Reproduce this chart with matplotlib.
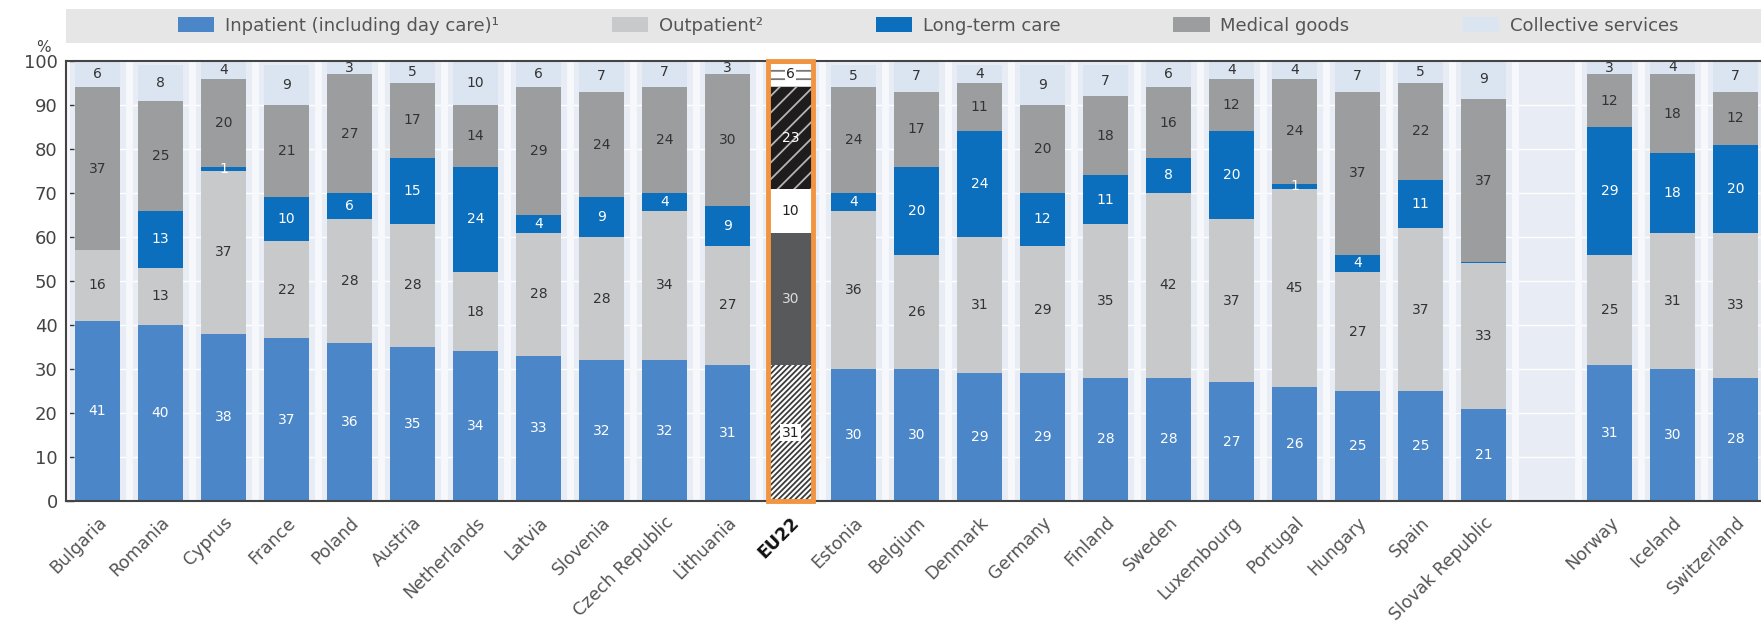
import numpy as np
import matplotlib
matplotlib.use('agg')
import matplotlib.pyplot as plt
from matplotlib.patches import Rectangle

# share of current health spending by function, %
countries = ['Bulgaria', 'Romania', 'Cyprus', 'France', 'Poland', 'Austria', 'Netherlands',
             'Latvia', 'Slovenia', 'Czech Republic', 'Lithuania', 'EU22', 'Estonia', 'Belgium',
             'Denmark', 'Germany', 'Finland', 'Sweden', 'Luxembourg', 'Portugal', 'Hungary',
             'Spain', 'Slovak Republic', 'Norway', 'Iceland', 'Switzerland']
inpatient = [41, 40, 38, 37, 36, 35, 34, 33, 32, 32, 31, 31, 30, 30, 29, 29, 28, 28, 27, 26, 25, 25, 21, 31, 30, 28]
outpatient = [16, 13, 37, 22, 28, 28, 18, 28, 28, 34, 27, 30, 36, 26, 31, 29, 35, 42, 37, 45, 27, 37, 33, 25, 31, 33]
ltc = [0, 13, 1, 10, 6, 15, 24, 4, 9, 4, 9, 10, 4, 20, 24, 12, 11, 8, 20, 1, 4, 11, 0.3, 29, 18, 20]
medical = [37, 25, 20, 21, 27, 17, 14, 29, 24, 24, 30, 23, 24, 17, 11, 20, 18, 16, 12, 24, 37, 22, 37, 12, 18, 12]
collective = [6, 8, 4, 9, 3, 5, 10, 6, 7, 7, 3, 6, 5, 7, 4, 9, 7, 6, 4, 4, 7, 5, 9, 3, 4, 7]
series_names = ['Inpatient (including day care)\u00b9', 'Outpatient\u00b2', 'Long-term care',
                'Medical goods', 'Collective services']

colors = ['#4a86c8', '#c8c9cb', '#0b6fbd', '#9c9d9f', '#dbe4f1']
txt_colors = ['white', '#333333', 'white', '#333333', '#333333']
n_other = 3  # non-EU countries, after an empty slot
eu_idx = countries.index('EU22')

x = np.arange(len(countries), dtype=float)
x[-n_other:] += 1
width = 0.71

W, H = 1761, 621
plt.rcParams['font.family'] = ['DejaVu Sans']
plt.rcParams['hatch.linewidth'] = 1.3

fig = plt.figure(figsize=(W/100, H/100), dpi=100)
ax = fig.add_axes([66/W, 1-501/H, 1701/W, 440/H])
ax.set_facecolor('#e8edf5')

data = [inpatient, outpatient, ltc, medical, collective]
bottom = np.zeros(len(countries))
containers = []
for vals, c, name in zip(data, colors, series_names):
    vals = np.array(vals, dtype=float)
    bc = ax.bar(x, vals, width, bottom=bottom, color=c, linewidth=0, label=name, zorder=2)
    containers.append(bc)
    bottom += vals

# EU22 bar in black & white hatching
eu_style = [dict(fc='white', ec='#3c3c3c', hatch='//////'),
            dict(fc='#58595b', ec='#58595b', hatch=None),
            dict(fc='white', ec='white', hatch=None),
            dict(fc='#1e1c1d', ec='#b5b5b5', hatch='//'),
            dict(fc='white', ec='#777777', hatch='--')]
for bc, st in zip(containers, eu_style):
    r = bc[eu_idx]
    r.set_facecolor(st['fc'])
    r.set_edgecolor(st['ec'])
    r.set_linewidth(0)
    if st['hatch']:
        r.set_hatch(st['hatch'])
ax.add_patch(Rectangle((x[eu_idx]-width/2, 0), width, 100, fill=False,
                       ec='#f39440', lw=3.5, zorder=5, clip_on=False))

# value labels
bottom = np.zeros(len(countries))
eu_txt = ['#222222', '#dddddd', '#222222', 'white', '#222222']
for k, vals in enumerate(data):
    for i, v in enumerate(vals):
        if v >= 1:
            col = eu_txt[k] if i == eu_idx else txt_colors[k]
            bb = None
            if i == eu_idx and k in (0, 4):
                bb = dict(boxstyle='square,pad=0.1', fc='white', ec='none')
            ax.text(x[i], min(bottom[i] + v/2, 98.6), '%d' % v, ha='center', va='center',
                    fontsize=10, color=col, zorder=6, bbox=bb)
        bottom[i] += v

# slot separators and grid
ax.vlines(np.arange(-0.5, len(countries) + 1), 0, 100, colors='#f6f8fc', lw=5, zorder=1)
ax.set_yticks(np.arange(0, 101, 10))
ax.yaxis.grid(True, color='white', lw=1, zorder=1)
ax.set_axisbelow(True)

ax.set_xlim(-0.5, len(countries) + 0.5)
ax.set_ylim(0, 100)
ax.set_xticks(x)
ax.set_xticklabels(countries, rotation=45, ha='right', rotation_mode='anchor',
                   fontsize=12.5, color='#555555')
ax.get_xticklabels()[eu_idx].set_fontweight('bold')
ax.get_xticklabels()[eu_idx].set_color('#111111')
ax.tick_params(axis='x', length=0, pad=9)
ax.set_xticks(np.arange(0.5, len(countries), 1), minor=True)
ax.tick_params(axis='x', which='minor', direction='in', length=5, width=1.5, color='#333333')
ax.tick_params(axis='y', direction='in', length=6, width=1, color='#333333',
               labelsize=13, labelcolor='#444444', pad=6)
for s in ['left', 'bottom', 'top']:
    ax.spines[s].set_color('#444444')
    ax.spines[s].set_linewidth(1.5)
ax.spines['right'].set_visible(False)

fig.text(43/W, 1-48/H, '%', fontsize=11, color='#444444', ha='center', va='center')

# legend band
fig.patches.append(Rectangle((66/W, 1-43/H), 1-66/W, 34/H, transform=fig.transFigure,
                             fc='#e6e6e6', ec='none', zorder=0))
leg = fig.legend(handles=containers, labels=series_names, ncol=5, mode='expand',
                 loc='center', bbox_to_anchor=(178/W, 1-43/H, 1500/W, 34/H),
                 fontsize=13, frameon=False, borderpad=0, borderaxespad=0,
                 handlelength=2.0, handleheight=0.9, handletextpad=0.6, labelcolor='#555555')

fig.savefig('out.png', dpi=100)
